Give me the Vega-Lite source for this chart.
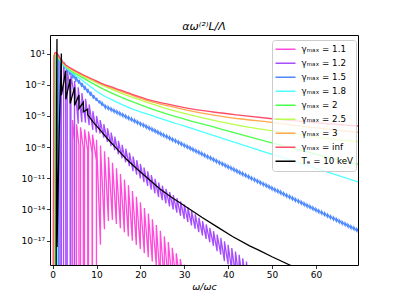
{
"$schema":"https://vega.github.io/schema/vega-lite/v6.json",
"width":308,"height":230,
"autosize":{"type":"none"},
"padding":{"left":50,"top":35,"right":41,"bottom":34},
"config":{"font":"DejaVu Sans","view":{"stroke":"#000","strokeWidth":1},
"axis":{"domain":false,"grid":false,"tickColor":"#000","labelColor":"#000","titleColor":"#000","tickSize":3.5,"tickWidth":0.8,"labelFontSize":9,"titleFontSize":9.5,"titleFontWeight":"normal","labelPadding":2}},
"title":{"text":"αω⁽²⁾L/Λ","fontSize":11,"fontStyle":"italic","fontWeight":"normal","baseline":"alphabetic","offset":3,"dy":9,"color":"#000"},
"data":{"values":[
{"s":"1.1","x":4.535,"y":1e-21},{"s":"1.1","x":4.545,"y":3.98e-6},{"s":"1.1","x":4.98,"y":3.98e-8},{"s":"1.1","x":5.0,"y":1e-21},
{"s":"1.1","x":5.445,"y":1e-21},{"s":"1.1","x":5.455,"y":1.58e-6},{"s":"1.1","x":5.98,"y":1.58e-8},{"s":"1.1","x":6.0,"y":1e-21},
{"s":"1.1","x":6.354,"y":1e-21},{"s":"1.1","x":6.364,"y":7.94e-7},{"s":"1.1","x":6.98,"y":7.94e-9},{"s":"1.1","x":7.0,"y":1e-21},
{"s":"1.1","x":7.263,"y":1e-21},{"s":"1.1","x":7.273,"y":5.01e-7},{"s":"1.1","x":7.98,"y":5.01e-9},{"s":"1.1","x":8.0,"y":1e-21},
{"s":"1.1","x":8.172,"y":1e-21},{"s":"1.1","x":8.182,"y":3.16e-7},{"s":"1.1","x":8.98,"y":3.16e-9},{"s":"1.1","x":9.0,"y":1e-21},
{"s":"1.1","x":9.081,"y":1e-21},{"s":"1.1","x":9.091,"y":1.58e-7},{"s":"1.1","x":9.97,"y":5.01e-10},{"s":"1.1","x":9.99,"y":1e-21},
{"s":"1.1","x":10.0,"y":5.01e-8},{"s":"1.1","x":10.899,"y":3.98e-18},{"s":"1.1","x":10.909,"y":1.41e-8},{"s":"1.1","x":11.808,"y":1.26e-16},
{"s":"1.1","x":11.818,"y":3.98e-9},{"s":"1.1","x":12.717,"y":7.94e-16},{"s":"1.1","x":12.727,"y":1.12e-9},{"s":"1.1","x":13.626,"y":1e-15},
{"s":"1.1","x":13.636,"y":3.16e-10},{"s":"1.1","x":14.535,"y":3.98e-16},{"s":"1.1","x":14.545,"y":9.12e-11},{"s":"1.1","x":15.445,"y":1.58e-16},
{"s":"1.1","x":15.455,"y":2.57e-11},{"s":"1.1","x":16.354,"y":6.31e-17},{"s":"1.1","x":16.364,"y":7.41e-12},{"s":"1.1","x":17.263,"y":2.51e-17},
{"s":"1.1","x":17.273,"y":2.09e-12},{"s":"1.1","x":18.172,"y":1e-17},{"s":"1.1","x":18.182,"y":6.03e-13},{"s":"1.1","x":19.081,"y":3.98e-18},
{"s":"1.1","x":19.091,"y":1.7e-13},{"s":"1.1","x":19.99,"y":1.58e-18},{"s":"1.1","x":20.0,"y":4.9e-14},{"s":"1.1","x":20.899,"y":6.31e-19},
{"s":"1.1","x":20.909,"y":1.38e-14},{"s":"1.1","x":21.808,"y":2.51e-19},{"s":"1.1","x":21.818,"y":3.98e-15},{"s":"1.1","x":22.717,"y":1e-19},
{"s":"1.1","x":22.727,"y":1.12e-15},{"s":"1.1","x":23.626,"y":3.98e-20},{"s":"1.1","x":23.636,"y":3.16e-16},{"s":"1.1","x":24.535,"y":1e-21},
{"s":"1.1","x":24.545,"y":9.12e-17},{"s":"1.1","x":25.445,"y":1e-21},{"s":"1.1","x":25.455,"y":2.57e-17},{"s":"1.1","x":26.354,"y":1e-21},
{"s":"1.1","x":26.364,"y":7.41e-18},{"s":"1.1","x":27.263,"y":1e-21},{"s":"1.1","x":27.273,"y":2.09e-18},{"s":"1.1","x":28.172,"y":1e-21},
{"s":"1.1","x":28.182,"y":6.03e-19},{"s":"1.1","x":29.081,"y":1e-21},{"s":"1.1","x":29.091,"y":1.7e-19},{"s":"1.1","x":29.99,"y":1e-21},
{"s":"1.1","x":30.0,"y":4.9e-20},{"s":"1.1","x":30.899,"y":1e-21},
{"s":"1.2","x":0.823,"y":1e-21},{"s":"1.2","x":0.833,"y":10},{"s":"1.2","x":0.98,"y":0.1},{"s":"1.2","x":1.0,"y":1e-21},
{"s":"1.2","x":1.657,"y":1e-21},{"s":"1.2","x":1.667,"y":2.82},{"s":"1.2","x":1.98,"y":2.82e-2},{"s":"1.2","x":2.0,"y":1e-21},
{"s":"1.2","x":2.49,"y":1e-21},{"s":"1.2","x":2.5,"y":0.794},{"s":"1.2","x":2.98,"y":7.94e-3},{"s":"1.2","x":3.0,"y":1e-21},
{"s":"1.2","x":3.323,"y":1e-21},{"s":"1.2","x":3.333,"y":0.282},{"s":"1.2","x":3.98,"y":2.82e-3},{"s":"1.2","x":4.0,"y":1e-21},
{"s":"1.2","x":4.157,"y":1e-21},{"s":"1.2","x":4.167,"y":7.94e-2},{"s":"1.2","x":4.97,"y":7.94e-4},{"s":"1.2","x":4.99,"y":1e-21},
{"s":"1.2","x":5.0,"y":2.24e-2},{"s":"1.2","x":5.823,"y":1.78e-6},{"s":"1.2","x":5.833,"y":5.62e-3},{"s":"1.2","x":6.657,"y":2.51e-6},
{"s":"1.2","x":6.667,"y":1.58e-3},{"s":"1.2","x":7.49,"y":2.24e-6},{"s":"1.2","x":7.5,"y":4.47e-4},{"s":"1.2","x":8.323,"y":1.26e-6},
{"s":"1.2","x":8.333,"y":1.26e-4},{"s":"1.2","x":9.157,"y":4.47e-7},{"s":"1.2","x":9.167,"y":2.82e-5},{"s":"1.2","x":9.99,"y":2.51e-7},
{"s":"1.2","x":10.0,"y":1e-5},{"s":"1.2","x":10.823,"y":2e-7},{"s":"1.2","x":10.833,"y":3.98e-6},{"s":"1.2","x":11.657,"y":7.94e-8},
{"s":"1.2","x":11.667,"y":1.58e-6},{"s":"1.2","x":12.49,"y":3.16e-8},{"s":"1.2","x":12.5,"y":6.31e-7},{"s":"1.2","x":13.323,"y":1.26e-8},
{"s":"1.2","x":13.333,"y":2.51e-7},{"s":"1.2","x":14.157,"y":5.01e-9},{"s":"1.2","x":14.167,"y":1e-7},{"s":"1.2","x":14.99,"y":2e-9},
{"s":"1.2","x":15.0,"y":3.98e-8},{"s":"1.2","x":15.823,"y":8.32e-10},{"s":"1.2","x":15.833,"y":1.66e-8},{"s":"1.2","x":16.657,"y":3.47e-10},
{"s":"1.2","x":16.667,"y":6.92e-9},{"s":"1.2","x":17.49,"y":1.45e-10},{"s":"1.2","x":17.5,"y":2.88e-9},{"s":"1.2","x":18.323,"y":5.01e-11},
{"s":"1.2","x":18.333,"y":1.26e-9},{"s":"1.2","x":19.157,"y":2.19e-11},{"s":"1.2","x":19.167,"y":5.5e-10},{"s":"1.2","x":19.99,"y":9.55e-12},
{"s":"1.2","x":20.0,"y":2.4e-10},{"s":"1.2","x":20.823,"y":4.27e-12},{"s":"1.2","x":20.833,"y":1.07e-10},{"s":"1.2","x":21.657,"y":1.86e-12},
{"s":"1.2","x":21.667,"y":4.68e-11},{"s":"1.2","x":22.49,"y":8.13e-13},{"s":"1.2","x":22.5,"y":2.04e-11},{"s":"1.2","x":23.323,"y":3.55e-13},
{"s":"1.2","x":23.333,"y":8.91e-12},{"s":"1.2","x":24.157,"y":1.55e-13},{"s":"1.2","x":24.167,"y":3.89e-12},{"s":"1.2","x":24.99,"y":7.76e-14},
{"s":"1.2","x":25.0,"y":1.95e-12},{"s":"1.2","x":25.823,"y":3.89e-14},{"s":"1.2","x":25.833,"y":9.77e-13},{"s":"1.2","x":26.657,"y":1.95e-14},
{"s":"1.2","x":26.667,"y":4.9e-13},{"s":"1.2","x":27.49,"y":9.77e-15},{"s":"1.2","x":27.5,"y":2.45e-13},{"s":"1.2","x":28.323,"y":4.9e-15},
{"s":"1.2","x":28.333,"y":1.23e-13},{"s":"1.2","x":29.157,"y":2.45e-15},{"s":"1.2","x":29.167,"y":6.17e-14},{"s":"1.2","x":29.99,"y":1.23e-15},
{"s":"1.2","x":30.0,"y":3.09e-14},{"s":"1.2","x":30.823,"y":6.17e-16},{"s":"1.2","x":30.833,"y":1.55e-14},{"s":"1.2","x":31.657,"y":2.88e-16},
{"s":"1.2","x":31.667,"y":7.24e-15},{"s":"1.2","x":32.49,"y":1.38e-16},{"s":"1.2","x":32.5,"y":3.47e-15},{"s":"1.2","x":33.323,"y":6.46e-17},
{"s":"1.2","x":33.333,"y":1.62e-15},{"s":"1.2","x":34.157,"y":3.09e-17},{"s":"1.2","x":34.167,"y":7.76e-16},{"s":"1.2","x":34.99,"y":1.45e-17},
{"s":"1.2","x":35.0,"y":3.63e-16},{"s":"1.2","x":35.823,"y":6.92e-18},{"s":"1.2","x":35.833,"y":1.74e-16},{"s":"1.2","x":36.657,"y":3.24e-18},
{"s":"1.2","x":36.667,"y":8.13e-17},{"s":"1.2","x":37.49,"y":9.77e-19},{"s":"1.2","x":37.5,"y":3.89e-17},{"s":"1.2","x":38.323,"y":4.57e-19},
{"s":"1.2","x":38.333,"y":1.82e-17},{"s":"1.2","x":39.157,"y":1.1e-19},{"s":"1.2","x":39.167,"y":8.71e-18},{"s":"1.2","x":39.99,"y":5.13e-20},
{"s":"1.2","x":40.0,"y":4.07e-18},{"s":"1.2","x":40.823,"y":1.23e-20},{"s":"1.2","x":40.833,"y":1.95e-18},{"s":"1.2","x":41.657,"y":5.75e-21},
{"s":"1.2","x":41.667,"y":9.12e-19},{"s":"1.2","x":42.49,"y":2.75e-21},{"s":"1.2","x":42.5,"y":4.37e-19},{"s":"1.2","x":43.323,"y":1.29e-21},
{"s":"1.2","x":43.333,"y":2.04e-19},{"s":"1.2","x":44.157,"y":6.31e-22},{"s":"1.2","x":44.167,"y":9.77e-20},{"s":"1.2","x":44.99,"y":3.16e-22},
{"s":"1.2","x":45.0,"y":4.57e-20},{"s":"1.2","x":45.823,"y":1e-22},
{"s":"1.5","x":0.66,"y":1e-21},{"s":"1.5","x":0.67,"y":2.51},{"s":"1.5","x":0.85,"y":7.94},{"s":"1.5","x":0.98,"y":3.98},{"s":"1.5","x":1.0,"y":1e-21},{"s":"1.5","x":1.32,"y":1e-21},
{"s":"1.5","x":1.33,"y":7.94},{"s":"1.5","x":1.99,"y":0.794},{"s":"1.5","x":2.0,"y":3.16},{"s":"1.5","x":2.66,"y":0.355},
{"s":"1.5","x":2.67,"y":1.41},{"s":"1.5","x":3.32,"y":0.166},{"s":"1.5","x":3.33,"y":0.661},{"s":"1.5","x":3.99,"y":7.94e-2},
{"s":"1.5","x":4.0,"y":0.316},{"s":"1.5","x":4.66,"y":3.89e-2},{"s":"1.5","x":4.67,"y":0.155},{"s":"1.5","x":5.32,"y":1.91e-2},
{"s":"1.5","x":5.33,"y":6.03e-2},{"s":"1.5","x":5.99,"y":1.2e-2},{"s":"1.5","x":6.0,"y":3.02e-2},{"s":"1.5","x":6.66,"y":6.03e-3},
{"s":"1.5","x":6.67,"y":1.51e-2},{"s":"1.5","x":7.32,"y":3.09e-3},{"s":"1.5","x":7.33,"y":7.76e-3},{"s":"1.5","x":7.99,"y":1.58e-3},
{"s":"1.5","x":8.0,"y":3.98e-3},{"s":"1.5","x":8.66,"y":8.32e-4},{"s":"1.5","x":8.67,"y":2.09e-3},{"s":"1.5","x":9.32,"y":4.47e-4},
{"s":"1.5","x":9.33,"y":1e-3},{"s":"1.5","x":9.99,"y":2.75e-4},{"s":"1.5","x":10.0,"y":5.5e-4},{"s":"1.5","x":10.66,"y":1.55e-4},
{"s":"1.5","x":10.67,"y":3.09e-4},{"s":"1.5","x":11.32,"y":9.12e-5},{"s":"1.5","x":11.33,"y":1.82e-4},{"s":"1.5","x":11.99,"y":5.62e-5},
{"s":"1.5","x":12.0,"y":1.07e-4},{"s":"1.5","x":12.66,"y":4.28e-5},{"s":"1.5","x":12.67,"y":7.8e-5},{"s":"1.5","x":13.32,"y":3.12e-5},
{"s":"1.5","x":13.33,"y":5.68e-5},{"s":"1.5","x":13.99,"y":2.27e-5},{"s":"1.5","x":14.0,"y":4.13e-5},{"s":"1.5","x":14.66,"y":1.65e-5},
{"s":"1.5","x":14.67,"y":3.01e-5},{"s":"1.5","x":15.32,"y":1.2e-5},{"s":"1.5","x":15.33,"y":2.19e-5},{"s":"1.5","x":15.99,"y":8.75e-6},
{"s":"1.5","x":16.0,"y":1.59e-5},{"s":"1.5","x":16.66,"y":6.37e-6},{"s":"1.5","x":16.67,"y":1.16e-5},{"s":"1.5","x":17.32,"y":4.63e-6},
{"s":"1.5","x":17.33,"y":8.43e-6},{"s":"1.5","x":17.99,"y":3.37e-6},{"s":"1.5","x":18.0,"y":6.14e-6},{"s":"1.5","x":18.66,"y":2.45e-6},
{"s":"1.5","x":18.67,"y":4.47e-6},{"s":"1.5","x":19.32,"y":1.79e-6},{"s":"1.5","x":19.33,"y":3.25e-6},{"s":"1.5","x":19.99,"y":1.3e-6},
{"s":"1.5","x":20.0,"y":2.37e-6},{"s":"1.5","x":20.66,"y":9.46e-7},{"s":"1.5","x":20.67,"y":1.72e-6},{"s":"1.5","x":21.32,"y":6.89e-7},
{"s":"1.5","x":21.33,"y":1.25e-6},{"s":"1.5","x":21.99,"y":5.01e-7},{"s":"1.5","x":22.0,"y":9.12e-7},{"s":"1.5","x":22.66,"y":3.65e-7},
{"s":"1.5","x":22.67,"y":6.64e-7},{"s":"1.5","x":23.32,"y":2.65e-7},{"s":"1.5","x":23.33,"y":4.83e-7},{"s":"1.5","x":23.99,"y":1.93e-7},
{"s":"1.5","x":24.0,"y":3.52e-7},{"s":"1.5","x":24.66,"y":1.41e-7},{"s":"1.5","x":24.67,"y":2.56e-7},{"s":"1.5","x":25.32,"y":1.02e-7},
{"s":"1.5","x":25.33,"y":1.86e-7},{"s":"1.5","x":25.99,"y":7.45e-8},{"s":"1.5","x":26.0,"y":1.36e-7},{"s":"1.5","x":26.66,"y":5.42e-8},
{"s":"1.5","x":26.67,"y":9.86e-8},{"s":"1.5","x":27.32,"y":3.95e-8},{"s":"1.5","x":27.33,"y":7.18e-8},{"s":"1.5","x":27.99,"y":2.87e-8},
{"s":"1.5","x":28.0,"y":5.22e-8},{"s":"1.5","x":28.66,"y":2.09e-8},{"s":"1.5","x":28.67,"y":3.8e-8},{"s":"1.5","x":29.32,"y":1.52e-8},
{"s":"1.5","x":29.33,"y":2.77e-8},{"s":"1.5","x":29.99,"y":1.11e-8},{"s":"1.5","x":30.0,"y":2.01e-8},{"s":"1.5","x":30.66,"y":8.06e-9},
{"s":"1.5","x":30.67,"y":1.47e-8},{"s":"1.5","x":31.32,"y":5.86e-9},{"s":"1.5","x":31.33,"y":1.07e-8},{"s":"1.5","x":31.99,"y":4.27e-9},
{"s":"1.5","x":32.0,"y":7.76e-9},{"s":"1.5","x":32.66,"y":3.1e-9},{"s":"1.5","x":32.67,"y":5.65e-9},{"s":"1.5","x":33.32,"y":2.26e-9},
{"s":"1.5","x":33.33,"y":4.11e-9},{"s":"1.5","x":33.99,"y":1.64e-9},{"s":"1.5","x":34.0,"y":2.99e-9},{"s":"1.5","x":34.66,"y":1.2e-9},
{"s":"1.5","x":34.67,"y":2.18e-9},{"s":"1.5","x":35.32,"y":8.71e-10},{"s":"1.5","x":35.33,"y":1.58e-9},{"s":"1.5","x":35.99,"y":6.34e-10},
{"s":"1.5","x":36.0,"y":1.15e-9},{"s":"1.5","x":36.66,"y":4.61e-10},{"s":"1.5","x":36.67,"y":8.39e-10},{"s":"1.5","x":37.32,"y":3.36e-10},
{"s":"1.5","x":37.33,"y":6.11e-10},{"s":"1.5","x":37.99,"y":2.44e-10},{"s":"1.5","x":38.0,"y":4.45e-10},{"s":"1.5","x":38.66,"y":1.78e-10},
{"s":"1.5","x":38.67,"y":3.24e-10},{"s":"1.5","x":39.32,"y":1.29e-10},{"s":"1.5","x":39.33,"y":2.36e-10},{"s":"1.5","x":39.99,"y":9.42e-11},
{"s":"1.5","x":40.0,"y":1.71e-10},{"s":"1.5","x":40.66,"y":6.86e-11},{"s":"1.5","x":40.67,"y":1.25e-10},{"s":"1.5","x":41.32,"y":4.99e-11},
{"s":"1.5","x":41.33,"y":9.08e-11},{"s":"1.5","x":41.99,"y":3.63e-11},{"s":"1.5","x":42.0,"y":6.61e-11},{"s":"1.5","x":42.66,"y":2.64e-11},
{"s":"1.5","x":42.67,"y":4.81e-11},{"s":"1.5","x":43.32,"y":1.92e-11},{"s":"1.5","x":43.33,"y":3.5e-11},{"s":"1.5","x":43.99,"y":1.4e-11},
{"s":"1.5","x":44.0,"y":2.55e-11},{"s":"1.5","x":44.66,"y":1.02e-11},{"s":"1.5","x":44.67,"y":1.85e-11},{"s":"1.5","x":45.32,"y":7.41e-12},
{"s":"1.5","x":45.33,"y":1.35e-11},{"s":"1.5","x":45.99,"y":5.4e-12},{"s":"1.5","x":46.0,"y":9.82e-12},{"s":"1.5","x":46.66,"y":3.93e-12},
{"s":"1.5","x":46.67,"y":7.14e-12},{"s":"1.5","x":47.32,"y":2.86e-12},{"s":"1.5","x":47.33,"y":5.2e-12},{"s":"1.5","x":47.99,"y":2.08e-12},
{"s":"1.5","x":48.0,"y":3.78e-12},{"s":"1.5","x":48.66,"y":1.51e-12},{"s":"1.5","x":48.67,"y":2.75e-12},{"s":"1.5","x":49.32,"y":1.1e-12},
{"s":"1.5","x":49.33,"y":2e-12},{"s":"1.5","x":49.99,"y":8.02e-13},{"s":"1.5","x":50.0,"y":1.46e-12},{"s":"1.5","x":50.66,"y":5.83e-13},
{"s":"1.5","x":50.67,"y":1.06e-12},{"s":"1.5","x":51.32,"y":4.25e-13},{"s":"1.5","x":51.33,"y":7.73e-13},{"s":"1.5","x":51.99,"y":3.09e-13},
{"s":"1.5","x":52.0,"y":5.62e-13},{"s":"1.5","x":52.66,"y":2.25e-13},{"s":"1.5","x":52.67,"y":4.09e-13},{"s":"1.5","x":53.32,"y":1.64e-13},
{"s":"1.5","x":53.33,"y":2.98e-13},{"s":"1.5","x":53.99,"y":1.19e-13},{"s":"1.5","x":54.0,"y":2.17e-13},{"s":"1.5","x":54.66,"y":8.67e-14},
{"s":"1.5","x":54.67,"y":1.58e-13},{"s":"1.5","x":55.32,"y":6.31e-14},{"s":"1.5","x":55.33,"y":1.15e-13},{"s":"1.5","x":55.99,"y":4.59e-14},
{"s":"1.5","x":56.0,"y":8.36e-14},{"s":"1.5","x":56.66,"y":3.34e-14},{"s":"1.5","x":56.67,"y":6.08e-14},{"s":"1.5","x":57.32,"y":2.43e-14},
{"s":"1.5","x":57.33,"y":4.43e-14},{"s":"1.5","x":57.99,"y":1.77e-14},{"s":"1.5","x":58.0,"y":3.22e-14},{"s":"1.5","x":58.66,"y":1.29e-14},
{"s":"1.5","x":58.67,"y":2.34e-14},{"s":"1.5","x":59.32,"y":9.38e-15},{"s":"1.5","x":59.33,"y":1.71e-14},{"s":"1.5","x":59.99,"y":6.82e-15},
{"s":"1.5","x":60.0,"y":1.24e-14},{"s":"1.5","x":60.66,"y":4.97e-15},{"s":"1.5","x":60.67,"y":9.04e-15},{"s":"1.5","x":61.32,"y":3.61e-15},
{"s":"1.5","x":61.33,"y":6.58e-15},{"s":"1.5","x":61.99,"y":2.63e-15},{"s":"1.5","x":62.0,"y":4.79e-15},{"s":"1.5","x":62.66,"y":1.91e-15},
{"s":"1.5","x":62.67,"y":3.48e-15},{"s":"1.5","x":63.32,"y":1.39e-15},{"s":"1.5","x":63.33,"y":2.54e-15},{"s":"1.5","x":63.99,"y":1.01e-15},
{"s":"1.5","x":64.0,"y":1.85e-15},{"s":"1.5","x":64.66,"y":7.38e-16},{"s":"1.5","x":64.67,"y":1.34e-15},{"s":"1.5","x":65.32,"y":5.37e-16},
{"s":"1.5","x":65.33,"y":9.77e-16},{"s":"1.5","x":65.99,"y":3.91e-16},{"s":"1.5","x":66.0,"y":7.11e-16},{"s":"1.5","x":66.66,"y":2.84e-16},
{"s":"1.5","x":66.67,"y":5.18e-16},{"s":"1.5","x":67.32,"y":2.07e-16},{"s":"1.5","x":67.33,"y":3.77e-16},{"s":"1.5","x":67.99,"y":1.51e-16},
{"s":"1.5","x":68.0,"y":2.74e-16},{"s":"1.5","x":68.66,"y":1.1e-16},{"s":"1.5","x":68.67,"y":2e-16},{"s":"1.5","x":69.32,"y":7.98e-17},
{"s":"1.5","x":69.33,"y":1.45e-16},{"s":"1.5","x":69.99,"y":5.81e-17},
{"s":"1.8","x":0.55,"y":1e-21},{"s":"1.8","x":0.56,"y":3.16},{"s":"1.8","x":0.8,"y":7.94},{"s":"1.8","x":0.97,"y":3.98},{"s":"1.8","x":1.0,"y":1e-21},{"s":"1.8","x":1.1,"y":1e-21},
{"s":"1.8","x":1.11,"y":5.01},{"s":"1.8","x":1.5,"y":2.82},{"s":"1.8","x":2,"y":1.26},{"s":"1.8","x":3,"y":0.447},{"s":"1.8","x":4.5,"y":0.126},
{"s":"1.8","x":6.5,"y":3.16e-2},{"s":"1.8","x":9,"y":5.01e-3},{"s":"1.8","x":11,"y":1.26e-3},{"s":"1.8","x":14,"y":2.82e-4},{"s":"1.8","x":18,"y":5.01e-5},
{"s":"1.8","x":22.2,"y":1.23e-5},{"s":"1.8","x":26,"y":3.55e-6},{"s":"1.8","x":30,"y":1.07e-6},{"s":"1.8","x":37,"y":1.2e-7},{"s":"1.8","x":44.9,"y":1e-8},
{"s":"1.8","x":49.5,"y":2.4e-9},{"s":"1.8","x":56,"y":3.16e-10},{"s":"1.8","x":62,"y":5.01e-11},{"s":"1.8","x":69.6,"y":4.57e-12},
{"s":"2","x":0.49,"y":1e-21},{"s":"2","x":0.51,"y":3.98},{"s":"2","x":0.7,"y":8.91},{"s":"2","x":1.0,"y":7.08},{"s":"2","x":1.5,"y":3.16},{"s":"2","x":2,"y":1.58},
{"s":"2","x":3,"y":0.562},{"s":"2","x":4.5,"y":0.178},{"s":"2","x":6.5,"y":5.62e-2},{"s":"2","x":9,"y":1.41e-2},{"s":"2","x":11,"y":5.01e-3},{"s":"2","x":14,"y":1.26e-3},
{"s":"2","x":18,"y":2.51e-4},{"s":"2","x":22.2,"y":5.37e-5},{"s":"2","x":26,"y":1.58e-5},{"s":"2","x":30,"y":5.01e-6},{"s":"2","x":37,"y":7.94e-7},{"s":"2","x":43,"y":1.58e-7},
{"s":"2","x":49.5,"y":2.88e-8},{"s":"2","x":56,"y":5.62e-9},{"s":"2","x":62,"y":1.26e-9},{"s":"2","x":69.6,"y":2.24e-10},
{"s":"2.5","x":0.39,"y":1e-21},{"s":"2.5","x":0.41,"y":5.01},{"s":"2.5","x":0.65,"y":10},{"s":"2.5","x":1.0,"y":7.94},{"s":"2.5","x":1.5,"y":3.55},{"s":"2.5","x":2,"y":1.78},
{"s":"2.5","x":3,"y":0.631},{"s":"2.5","x":4.5,"y":0.224},{"s":"2.5","x":6.5,"y":7.94e-2},{"s":"2.5","x":9,"y":2.51e-2},{"s":"2.5","x":11,"y":1e-2},{"s":"2.5","x":14,"y":2.82e-3},
{"s":"2.5","x":18,"y":6.31e-4},{"s":"2.5","x":22.2,"y":1.58e-4},{"s":"2.5","x":26,"y":5.01e-5},{"s":"2.5","x":30,"y":1.78e-5},{"s":"2.5","x":37,"y":3.55e-6},{"s":"2.5","x":43,"y":1.12e-6},
{"s":"2.5","x":49.5,"y":3.98e-7},{"s":"2.5","x":56,"y":1.58e-7},{"s":"2.5","x":62,"y":7.08e-8},{"s":"2.5","x":69.6,"y":3.31e-8},
{"s":"3","x":0.32,"y":1e-21},{"s":"3","x":0.34,"y":5.01},{"s":"3","x":0.6,"y":11.2},{"s":"3","x":1.0,"y":8.91},{"s":"3","x":1.5,"y":3.98},{"s":"3","x":2,"y":2.0},
{"s":"3","x":3,"y":0.708},{"s":"3","x":4.5,"y":0.282},{"s":"3","x":6.5,"y":0.1},{"s":"3","x":9,"y":3.16e-2},{"s":"3","x":11,"y":1.26e-2},{"s":"3","x":14,"y":3.98e-3},
{"s":"3","x":18,"y":1e-3},{"s":"3","x":22.2,"y":2.51e-4},{"s":"3","x":26,"y":1e-4},{"s":"3","x":30,"y":3.98e-5},{"s":"3","x":37,"y":1.12e-5},{"s":"3","x":43,"y":5.01e-6},
{"s":"3","x":49.5,"y":2.51e-6},{"s":"3","x":56,"y":1.12e-6},{"s":"3","x":62,"y":5.62e-7},{"s":"3","x":69.6,"y":2.63e-7},
{"s":"inf","x":0.1,"y":1e-21},{"s":"inf","x":0.3,"y":3.98},{"s":"inf","x":0.6,"y":12.6},{"s":"inf","x":1.0,"y":10},{"s":"inf","x":1.5,"y":4.47},{"s":"inf","x":2,"y":2.24},
{"s":"inf","x":3,"y":0.794},{"s":"inf","x":4.5,"y":0.316},{"s":"inf","x":6.5,"y":0.112},{"s":"inf","x":9,"y":3.55e-2},{"s":"inf","x":11,"y":1.41e-2},{"s":"inf","x":14,"y":5.01e-3},
{"s":"inf","x":18,"y":1.26e-3},{"s":"inf","x":22,"y":3.55e-4},{"s":"inf","x":26,"y":1.41e-4},{"s":"inf","x":30,"y":6.31e-5},{"s":"inf","x":37,"y":2.24e-5},{"s":"inf","x":43,"y":1.12e-5},
{"s":"inf","x":49.5,"y":5.62e-6},{"s":"inf","x":56,"y":3.16e-6},{"s":"inf","x":62,"y":1.86e-6},{"s":"inf","x":69.6,"y":1.07e-6},
{"s":"Te","x":0.8,"y":1e-21},{"s":"Te","x":0.9,"y":1e-3},{"s":"Te","x":0.99,"y":251},{"s":"Te","x":1.01,"y":2.51e-18},{"s":"Te","x":1.5,"y":3.16e-7},
{"s":"Te","x":1.99,"y":10},{"s":"Te","x":2.01,"y":1e-3},{"s":"Te","x":2.99,"y":0.224},{"s":"Te","x":3.01,"y":3.98e-4},{"s":"Te","x":3.99,"y":3.55e-2},
{"s":"Te","x":4.01,"y":1.58e-4},{"s":"Te","x":4.99,"y":5.62e-3},{"s":"Te","x":5.01,"y":1e-4},{"s":"Te","x":5.99,"y":1e-3},{"s":"Te","x":6.01,"y":5.01e-5},
{"s":"Te","x":6.99,"y":2e-4},{"s":"Te","x":7.01,"y":2.51e-5},{"s":"Te","x":7.99,"y":4.47e-5},{"s":"Te","x":8.01,"y":1.26e-5},{"s":"Te","x":9.25,"y":2.51e-6},
{"s":"Te","x":10.8,"y":4.47e-7},{"s":"Te","x":12.6,"y":5.62e-8},{"s":"Te","x":14.5,"y":7.94e-9},{"s":"Te","x":16.9,"y":6.31e-10},{"s":"Te","x":19.5,"y":6.31e-11},
{"s":"Te","x":22.2,"y":6.31e-12},{"s":"Te","x":24.4,"y":1e-12},{"s":"Te","x":27,"y":1.58e-13},{"s":"Te","x":29,"y":4.47e-14},{"s":"Te","x":31,"y":1.26e-14},
{"s":"Te","x":34,"y":1.78e-15},{"s":"Te","x":37.4,"y":2.24e-16},{"s":"Te","x":41,"y":2.51e-17},{"s":"Te","x":44.9,"y":3.16e-18},{"s":"Te","x":47.2,"y":1.12e-18},
{"s":"Te","x":50,"y":2.82e-19},{"s":"Te","x":54.05,"y":4.57e-20},{"s":"Te","x":56,"y":2e-20}
]},
"encoding":{
"x":{"field":"x","type":"quantitative","scale":{"domain":[-0.6,69.6],"nice":false,"zero":false},"axis":{"values":[0,10,20,30,40,50,60],"title":"ω/ωc","titleFontStyle":"italic","titlePadding":2}},
"y":{"field":"y","type":"quantitative","scale":{"type":"log","domain":[4.57e-20,603],"nice":false},"axis":{"values":[1e1,1e-2,1e-5,1e-8,1e-11,1e-14,1e-17],"title":null,"labelExpr":"datum.value > 1 ? '10¹' : datum.value > 1e-3 ? '10⁻²' : datum.value > 1e-6 ? '10⁻⁵' : datum.value > 1e-9 ? '10⁻⁸' : datum.value > 1e-12 ? '10⁻¹¹' : datum.value > 1e-15 ? '10⁻¹⁴' : '10⁻¹⁷'"}},
"color":{"field":"s","type":"nominal","scale":{"domain":["1.1","1.2","1.5","1.8","2","2.5","3","inf","Te"],"range":["#ff4ddb","#a64dff","#4d88ff","#4dffff","#4dff4d","#b8ff4d","#ffa84d","#ff4d6a","#000000"]},
"legend":{"orient":"none","legendX":222,"legendY":5,"title":null,"symbolType":"stroke","symbolSize":400,"symbolStrokeWidth":1.5,"clipHeight":13.6,"labelFontSize":8.7,"labelColor":"#000","rowPadding":0,"padding":2.5,"fillColor":"rgba(255,255,255,0.8)","strokeColor":"#cccccc","cornerRadius":3,"labelOffset":5,"labelExpr":"datum.label == 'Te' ? 'Tₑ = 10 keV' : 'γₘₐₓ = ' + datum.label"}}
},
"layer":[
{"transform":[{"filter":{"field":"s","equal":"1.1"}}],"mark":{"type":"line","clip":true,"strokeWidth":1.3}},
{"transform":[{"filter":{"field":"s","equal":"1.2"}}],"mark":{"type":"line","clip":true,"strokeWidth":1.3}},
{"transform":[{"filter":{"field":"s","equal":"1.5"}}],"mark":{"type":"line","clip":true,"strokeWidth":1.3}},
{"transform":[{"filter":{"field":"s","equal":"1.8"}}],"mark":{"type":"line","clip":true,"strokeWidth":1.3,"interpolate":"monotone"}},
{"transform":[{"filter":{"field":"s","equal":"2"}}],"mark":{"type":"line","clip":true,"strokeWidth":1.3,"interpolate":"monotone"}},
{"transform":[{"filter":{"field":"s","equal":"2.5"}}],"mark":{"type":"line","clip":true,"strokeWidth":1.3,"interpolate":"monotone"}},
{"transform":[{"filter":{"field":"s","equal":"3"}}],"mark":{"type":"line","clip":true,"strokeWidth":1.3,"interpolate":"monotone"}},
{"transform":[{"filter":{"field":"s","equal":"inf"}}],"mark":{"type":"line","clip":true,"strokeWidth":1.3,"interpolate":"monotone"}},
{"transform":[{"filter":{"field":"s","equal":"Te"}}],"mark":{"type":"line","clip":true,"strokeWidth":1.3}}
]
}
